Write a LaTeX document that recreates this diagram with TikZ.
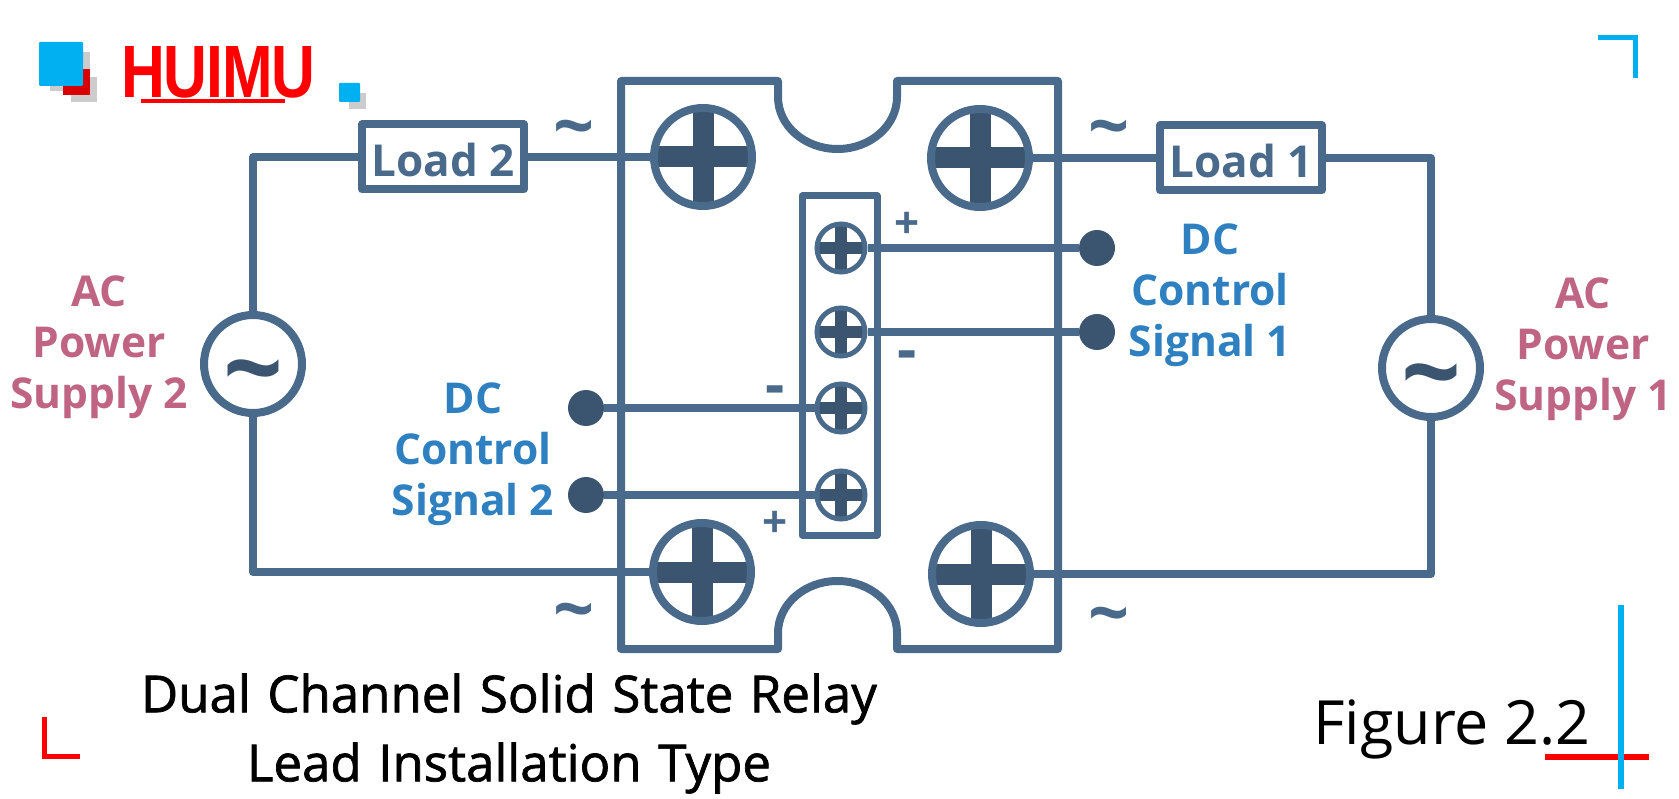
\documentclass[tikz,border=0pt]{standalone}
\usepackage{fontspec}
\usepackage{graphicx}
\setmainfont{Open Sans}
\newfontfamily\logofont{Liberation Sans}
\newfontfamily\titlefont[FakeBold=1.4,WordSpace=1.25]{Open Sans}
\newcommand{\actilde}{\raisebox{-42pt}[0pt][0pt]{\textasciitilde}}
\definecolor{wirecol}{HTML}{4A6A8C}
\definecolor{crosscol}{HTML}{3B5570}
\definecolor{accol}{HTML}{BF6482}
\definecolor{dccol}{HTML}{2E80C0}
\definecolor{cyancol}{HTML}{00B0F0}
\definecolor{shadecol}{HTML}{CCCCCC}
\tikzset{
  wire/.style={draw=wirecol,line width=8pt,line join=round},
  bigscrew/.style={circle,draw=wirecol,line width=8pt,minimum size=98pt,inner sep=0pt,
    path picture={
      \draw[crosscol,line width=21pt] (path picture bounding box.north) -- (path picture bounding box.south);
      \draw[crosscol,line width=21pt] (path picture bounding box.west) -- (path picture bounding box.east);
    }},
  smallscrew/.style={circle,draw=wirecol,line width=5pt,minimum size=48pt,inner sep=0pt,
    path picture={
      \draw[crosscol,line width=12pt] (path picture bounding box.north) -- (path picture bounding box.south);
      \draw[crosscol,line width=12pt] (path picture bounding box.west) -- (path picture bounding box.east);
    }},
  signaldot/.style={circle,fill=crosscol,minimum size=36pt,inner sep=0pt},
  loadbox/.style={draw=wirecol,line width=8pt,line join=round,minimum width=162pt,minimum height=65pt,
    inner sep=0pt,text height=40pt,text depth=0pt,text=wirecol,font=\fontsize{44}{50}\selectfont\bfseries},
  acsource/.style={circle,draw=wirecol,line width=8pt,minimum size=98pt,inner sep=0pt,
    text=crosscol,font=\fontsize{105}{105}\selectfont\bfseries},
  tildemark/.style={inner sep=0pt,text=wirecol,font=\fontsize{72}{72}\selectfont\bfseries},
  polarity/.style={inner sep=0pt,text=wirecol,font=\fontsize{44}{44}\selectfont\bfseries},
  minusmark/.style={inner sep=0pt,text=wirecol,font=\fontsize{60}{60}\selectfont\bfseries},
  aclabel/.style={align=center,inner sep=0pt,text=accol,font=\fontsize{42.5}{51}\selectfont\bfseries},
  dclabel/.style={align=center,inner sep=0pt,text=dccol,font=\fontsize{42.5}{51}\selectfont\bfseries},
  titletext/.style={inner sep=0pt,text=black,font=\fontsize{51}{51}\titlefont\selectfont},
}
\begin{document}
\begin{tikzpicture}[x=1pt,y=-1pt]
  \useasboundingbox (0,0) rectangle (1679,799);
  \fill[shadecol] (50,52) rectangle (90,91);
  \fill[shadecol] (71,77) rectangle (97,102);
  \fill[red!85!black] (63,69) rectangle (90,95);
  \fill[cyancol,rounded corners=1pt] (39,42) rectangle (83,86);
  \node[inner sep=0pt,text=red,anchor=north west] (logotext) at (121,46)
    {\resizebox{194pt}{51pt}{\logofont\bfseries H\kern-.02em U\kern-.02em I\kern-.02em M\kern-.02em U}};
  \fill[red] (141,99) rectangle (285,103);
  \fill[shadecol] (349,93) rectangle (366,109);
  \fill[cyancol,rounded corners=1pt] (339,83) rectangle (360,102);

  \draw[wire] (621,81) -- (778,81) -- (778,97)
    arc[start angle=180,end angle=0,x radius=59.5,y radius=52]
    -- (897,81) -- (1058,81) -- (1058,649) -- (897,649) -- (897,633)
    arc[start angle=0,end angle=-180,x radius=59.5,y radius=52]
    -- (778,649) -- (621,649) -- cycle;
  \draw[wire,line width=7pt] (802,196) rectangle (877,535);

  \node[bigscrew] (screwa) at (703,157) {};
  \node[bigscrew] (screwb) at (980,158) {};
  \node[bigscrew] (screwc) at (702,572) {};
  \node[bigscrew] (screwd) at (981,574) {};
  \node[smallscrew] (terma) at (841,248) {};
  \node[smallscrew] (termb) at (841,332) {};
  \node[smallscrew] (termc) at (841,408) {};
  \node[smallscrew] (termd) at (841,495) {};

  \node[signaldot] (dotap) at (1097,248) {};
  \node[signaldot] (dotam) at (1097,332) {};
  \node[signaldot] (dotbm) at (586,408) {};
  \node[signaldot] (dotbp) at (586,495) {};
  \draw[wire] (terma) -- (dotap);
  \draw[wire] (termb) -- (dotam);
  \draw[wire] (termc) -- (dotbm);
  \draw[wire] (termd) -- (dotbp);

  \node[loadbox] (loadb) at (443,157) {Load 2};
  \node[loadbox] (loada) at (1241,158) {Load 1};
  \node[acsource] (acb) at (253,364) {\actilde};
  \node[acsource] (aca) at (1431,368) {\actilde};
  \draw[wire] (screwa) -- (loadb);
  \draw[wire] (screwb) -- (loada);
  \draw[wire] (loadb) -| (acb);
  \draw[wire] (loada) -| (aca);
  \draw[wire] (screwc) -| (acb);
  \draw[wire] (screwd) -| (aca);

  \node[tildemark] (tildea) at (574,136) {\textasciitilde};
  \node[tildemark] (tildeb) at (1109,136) {\textasciitilde};
  \node[tildemark] (tildec) at (574,619) {\textasciitilde};
  \node[tildemark] (tilded) at (1109,623) {\textasciitilde};
  \node[polarity] (plusa) at (907,225) {+};
  \node[minusmark] (minusa) at (907,361) {-};
  \node[minusmark] (minusb) at (775,396) {-};
  \node[polarity] (plusb) at (775,524) {+};

  \node[aclabel] (aclabelb) at (99,347) {AC\\Power\\Supply 2};
  \node[aclabel] (aclabela) at (1583,349) {AC\\Power\\Supply 1};
  \node[dclabel] (dclabelb) at (473,454) {DC\\Control\\Signal 2};
  \node[dclabel] (dclabela) at (1210,295) {DC\\Control\\Signal 1};

  \node[titletext] (titlea) at (509,699) {Dual Channel Solid State Relay};
  \node[titletext] (titleb) at (509,768) {Lead Installation Type};
  \node[inner sep=0pt,anchor=base west,font=\fontsize{61}{61}\selectfont] (figlabel) at (1313,744) {Figure 2.2};

  \draw[cyancol,line width=5pt] (1598,38) -- (1635,38) -- (1635,78);
  \draw[red,line width=5pt] (44,717) -- (44,756) -- (80,756);
  \draw[red,line width=6pt] (1545,757) -- (1649,757);
  \draw[cyancol,line width=6pt] (1621,605) -- (1621,789);
\end{tikzpicture}
\end{document}
